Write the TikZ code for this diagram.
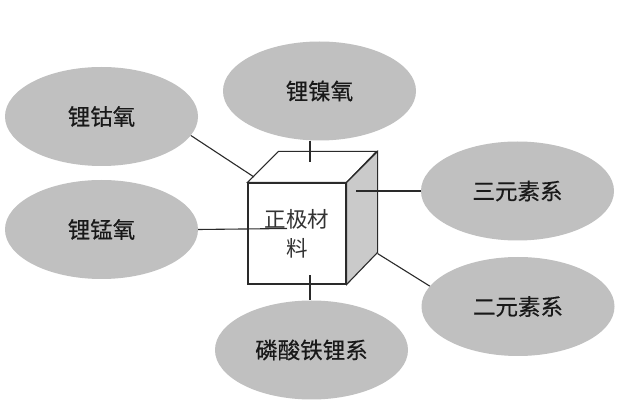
\documentclass[tikz,border=0pt]{standalone}
\usepackage{fontspec}
\newfontfamily\cjk{Noto Sans CJK SC}
\newfontfamily\cjkb[FakeBold=0.4]{Noto Sans CJK SC}
\usetikzlibrary{shapes.geometric,calc}
\definecolor{ellgray}{HTML}{C0C0C0}
\definecolor{sidegray}{HTML}{CACACA}
\definecolor{linegray}{HTML}{2A2A2A}
\tikzset{
  bubble/.style={ellipse, fill=ellgray, minimum width=193pt, minimum height=99pt, inner sep=0pt,
    font=\cjkb\fontsize{22.5}{26}\selectfont, text=black!90},
  link/.style={draw=linegray, line width=1.1pt},
  face/.style={draw=linegray, line width=1.1pt, line join=miter},
}
\begin{document}
\begin{tikzpicture}[x=1pt,y=-1pt]
\useasboundingbox[fill=white] (0,0) rectangle (630,406);
% ellipses
\node[bubble] (e1) at (101.5,116.5) {锂钴氧};
\node[bubble] (e2) at (319.5,91) {锂镍氧};
\node[bubble] (e3) at (517.5,191) {三元素系};
\node[bubble] (e4) at (101.5,229.5) {锂锰氧};
\node[bubble] (e5) at (518,306.5) {二元素系};
\node[bubble] (e6) at (311.5,350) {磷酸铁锂系};
% cube
\node[face, fill=white, minimum width=98pt, minimum height=101pt, inner sep=0pt, align=center,
  font=\cjk\fontsize{21.5}{29}\selectfont, text=black!80] (cube) at (297,233.5) {正极材\\料};
\draw[face, fill=white] (cube.north west) -- ++(31,-31) -- ++(98,0) -- (cube.north east) -- cycle;
\draw[face, fill=sidegray] (cube.north east) -- ++(31,-31) -- ++(0,101) -- (cube.south east) -- cycle;
% connector end points on the cube
\coordinate (p1) at (254,177);
\coordinate (p2) at (310,162);
\coordinate (p3) at (356,191);
\coordinate (p4) at (287,228.5);
\coordinate (p5) at ($(cube.south east)+(31,-31)$);
\coordinate (p6) at (310,275.5);
% connectors
\draw[link] (e1.-12.6) -- (p1);
\draw[link] (p2 |- e2.south) -- (p2);
\draw[link] (p3) -- (e3.west);
\draw[link] (e4.east) -- (p4);
\draw[link] (p5) -- (e5.167.5);
\draw[link] (p6) -- (p6 |- e6.north);
\end{tikzpicture}
\end{document}
